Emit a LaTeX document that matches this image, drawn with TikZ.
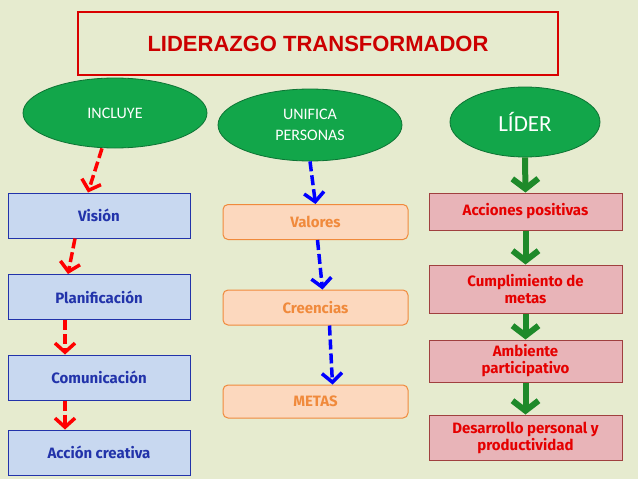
\documentclass[tikz,border=0pt]{standalone}
\usepackage{fontspec}
\setmainfont{Carlito}
\newfontfamily\comic{Fira Sans}
\newfontfamily\arialf{Liberation Sans}
\usetikzlibrary{shapes.geometric,arrows.meta}
\definecolor{bg}{HTML}{E6EBCF}
\definecolor{ellg}{HTML}{12A64A}
\definecolor{bluef}{HTML}{C8D8F0}
\definecolor{blueb}{HTML}{2233AA}
\definecolor{orf}{HTML}{FCD8BE}
\definecolor{orb}{HTML}{F08A3C}
\definecolor{pkf}{HTML}{E8B4B8}
\definecolor{pkb}{HTML}{A0403F}
\definecolor{arrg}{HTML}{1E8A2A}
\tikzset{
 ell/.style={ellipse,draw=ellg!70!black,fill=ellg,text=white,font=\fontsize{16}{21}\selectfont,align=center,line width=0.8pt},
 bbox/.style={draw=blueb,fill=bluef,text=blueb,font=\comic\bfseries\fontsize{15}{17}\selectfont,minimum width=182pt,minimum height=45pt,line width=1pt},
 obox/.style={draw=orb,fill=orf,text=orb,font=\comic\bfseries\fontsize{15}{17}\selectfont,minimum width=185pt,minimum height=35pt,rounded corners=5pt,line width=1pt},
 pbox/.style={draw=pkb,fill=pkf,text=red!90!black,font=\comic\bfseries\fontsize{15}{17}\selectfont,minimum width=193pt,align=center,line width=1pt,inner sep=1pt},
 rarr/.style={draw=red,line width=3.5pt,dash pattern=on 10pt off 4pt,-{Straight Barb[length=9pt,width=20pt,line width=3.5pt]}},
 barr/.style={draw=blue,line width=3.5pt,dash pattern=on 10pt off 4pt,-{Straight Barb[length=9pt,width=20pt,line width=3.5pt]}},
 garr/.style={draw=arrg,line width=6pt,-{Straight Barb[length=10pt,width=26pt,line width=6pt]}}
}
\begin{document}
\begin{tikzpicture}[x=1pt,y=-1pt]
\fill[bg] (0,0) rectangle (638,479);
\useasboundingbox (0,0) rectangle (638,479);
\node[draw=red!85!black,fill=bg,line width=1.5pt,minimum width=480pt,minimum height=63pt,text=red!80!black,font=\arialf\bfseries\fontsize{22}{25}\selectfont] (title) at (318,43.5) {LIDERAZGO TRANSFORMADOR};
\node[ell,minimum width=184pt,minimum height=70pt] (inc) at (115,113) {INCLUYE};
\node[ell,minimum width=184pt,minimum height=72pt] (uni) at (310,125) {UNIFICA\\PERSONAS};
\node[ell,minimum width=150pt,minimum height=70pt,font=\fontsize{23}{26}\selectfont] (lid) at (525,122) {LÍDER};
\node[bbox] (vis) at (99,215.5) {Visión};
\node[bbox] (pla) at (99,297) {Planificación};
\node[bbox] (com) at (99,377.5) {Comunicación};
\node[bbox] (acc) at (99,452.5) {Acción creativa};
\node[obox] (val) at (315.5,222) {Valores};
\node[obox] (cre) at (315.5,307.5) {Creencias};
\node[obox,minimum height=33pt] (met) at (315.5,401.5) {METAS};
\node[pbox,minimum height=37pt] (ap) at (525.5,211.5) {Acciones positivas};
\node[pbox,minimum height=48pt] (cm) at (525.5,289) {Cumplimiento de\\metas};
\node[pbox,minimum height=42pt] (am) at (525.5,361) {Ambiente\\participativo};
\node[pbox,minimum height=45pt] (de) at (525.5,437.5) {Desarrollo personal y\\productividad};
\draw[rarr] ([xshift=-13pt]inc.south) -- ([xshift=-11pt]vis.north);
\draw[rarr] ([xshift=-24pt]vis.south) -- ([xshift=-31pt]pla.north);
\draw[rarr] ([xshift=-34pt]pla.south) -- ([xshift=-34pt]com.north);
\draw[rarr] ([xshift=-34pt]com.south) -- ([xshift=-34pt]acc.north);
\draw[barr] (uni.south) -- (val.north);
\draw[barr] ([xshift=2pt]val.south) -- ([xshift=7pt]cre.north);
\draw[barr] ([xshift=14pt]cre.south) -- ([xshift=17pt]met.north);
\draw[garr] (lid.south) -- (ap.north);
\draw[garr] (ap.south) -- (cm.north);
\draw[garr] (cm.south) -- (am.north);
\draw[garr] (am.south) -- (de.north);
\end{tikzpicture}
\end{document}
